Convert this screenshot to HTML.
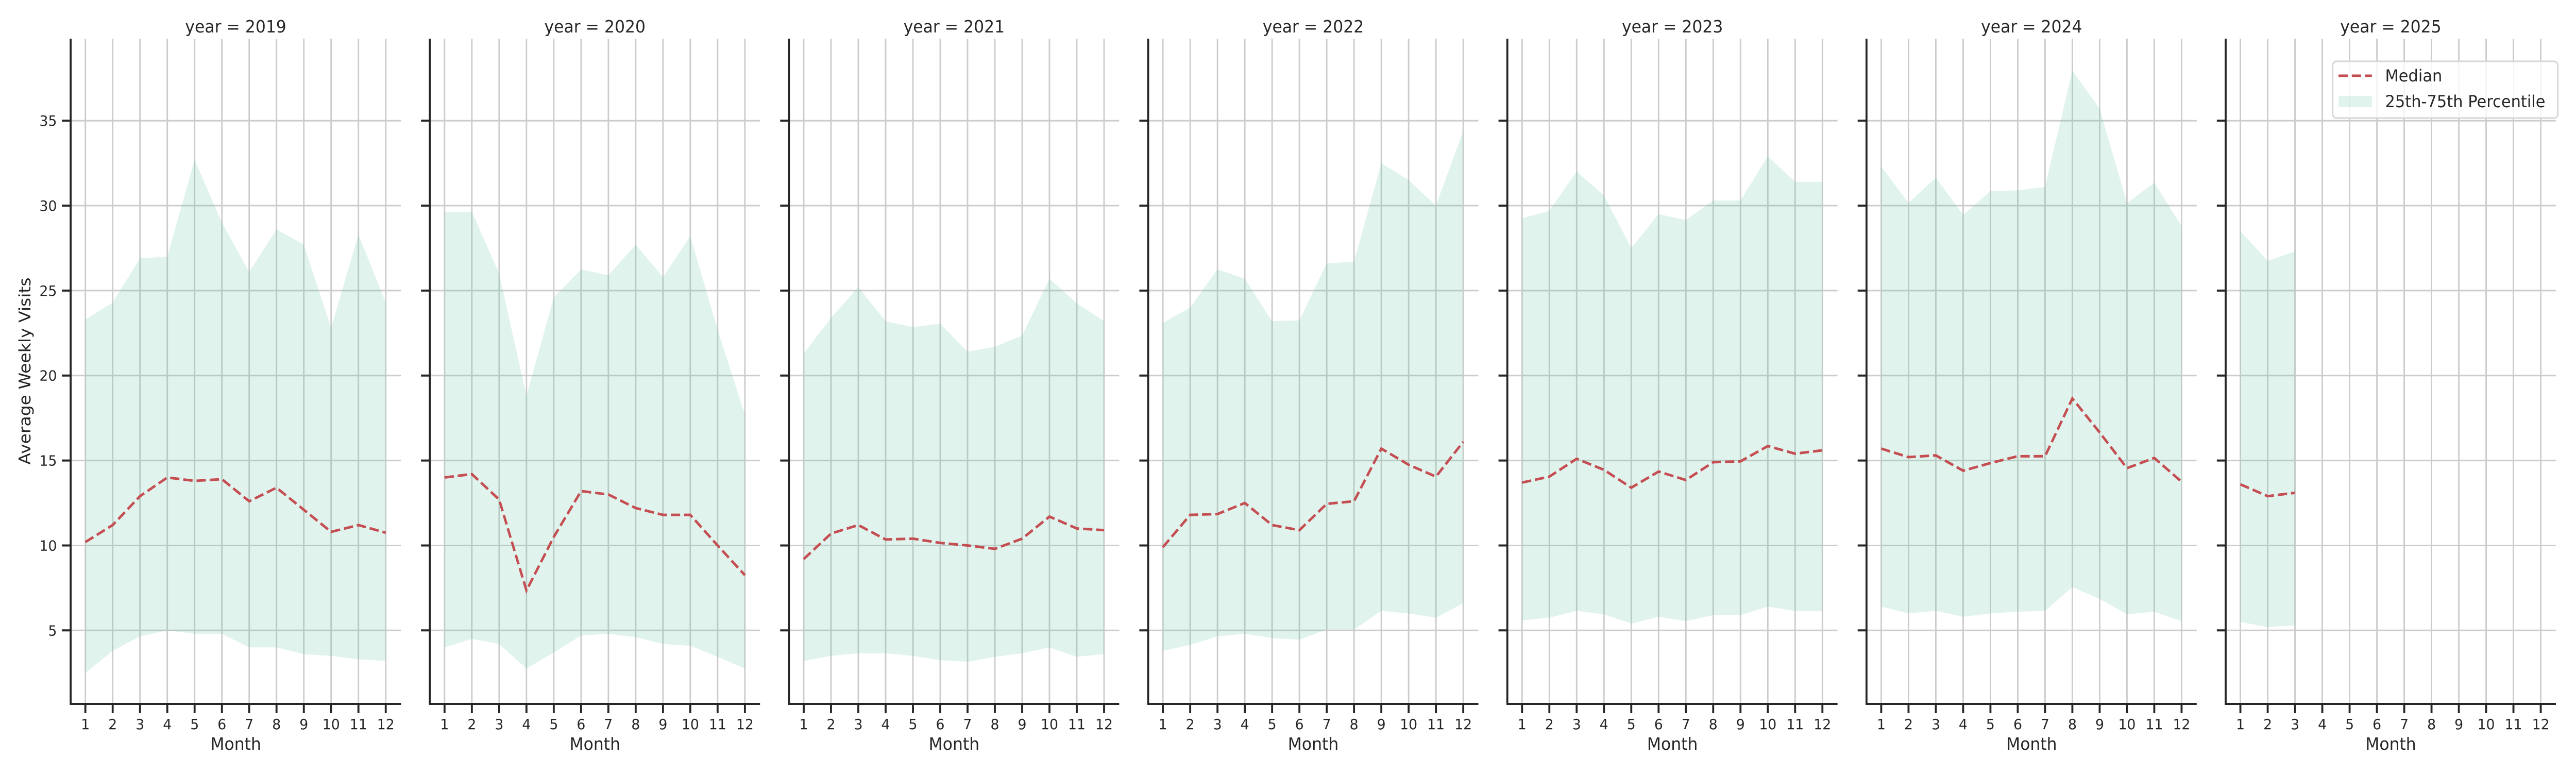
<!DOCTYPE html>
<html><head><meta charset="utf-8">
<style>
html,body{margin:0;padding:0;background:#fff;overflow:hidden;width:100%;height:100%;}
svg{display:block;width:100vw;height:100vh;font-family:"DejaVu Sans","Liberation Sans",sans-serif;}
</style></head>
<body>
<svg id="chart" viewBox="0 0 5250 1500" preserveAspectRatio="none" xmlns="http://www.w3.org/2000/svg"></svg>
<script>
const years = [2019, 2020, 2021, 2022, 2023, 2024, 2025];
const months = [1,2,3,4,5,6,7,8,9,10,11,12];
const yTicks = [5,10,15,20,25,30,35];
const median2019 = [10.2,11.2,12.9,14.0,13.8,13.9,12.6,13.4,12.1,10.8,11.2,10.75];
const upper2019 = [23.3,24.3,26.9,27.0,32.7,29.0,26.1,28.6,27.7,22.8,28.3,24.3];
const lower2019 = [2.5,3.8,4.65,5.0,4.8,4.8,4.0,4.0,3.6,3.5,3.3,3.2];
const median2020 = [14.0,14.2,12.7,7.35,10.5,13.2,13.0,12.2,11.8,11.8,10.0,8.25];
const upper2020 = [29.6,29.65,26.0,18.8,24.6,26.25,25.9,27.7,25.8,28.2,22.7,17.7];
const lower2020 = [4.0,4.5,4.2,2.75,3.7,4.7,4.8,4.6,4.2,4.1,3.45,2.75];
const median2021 = [9.2,10.7,11.2,10.35,10.4,10.15,10.0,9.8,10.4,11.7,11.0,10.9];
const upper2021 = [21.3,23.4,25.2,23.2,22.85,23.05,21.4,21.7,22.35,25.7,24.25,23.2];
const lower2021 = [3.2,3.5,3.65,3.65,3.5,3.25,3.15,3.45,3.65,4.0,3.45,3.6];
const median2022 = [9.9,11.8,11.85,12.5,11.2,10.9,12.45,12.6,15.7,14.75,14.05,16.1];
const upper2022 = [23.1,24.0,26.25,25.7,23.2,23.25,26.6,26.7,32.5,31.5,30.0,34.4];
const lower2022 = [3.8,4.15,4.65,4.8,4.55,4.45,5.05,5.05,6.15,6.0,5.75,6.6];
const median2023 = [13.7,14.05,15.1,14.45,13.4,14.35,13.85,14.9,14.95,15.85,15.4,15.6];
const upper2023 = [29.25,29.7,32.0,30.6,27.5,29.5,29.15,30.3,30.3,32.9,31.4,31.4];
const lower2023 = [5.6,5.75,6.15,5.95,5.4,5.8,5.55,5.9,5.9,6.4,6.15,6.15];
const median2024 = [15.7,15.2,15.3,14.4,14.85,15.25,15.25,18.65,16.65,14.55,15.15,13.75];
const upper2024 = [32.3,30.15,31.65,29.45,30.85,30.9,31.1,37.95,35.7,30.15,31.35,28.8];
const lower2024 = [6.4,6.0,6.15,5.8,6.0,6.1,6.15,7.55,6.85,5.95,6.1,5.55];
const median2025 = [13.6,12.9,13.1];
const upper2025 = [28.5,26.75,27.3];
const lower2025 = [5.5,5.2,5.3];

const medians = [median2019,median2020,median2021,median2022,median2023,median2024,median2025];
const uppers = [upper2019,upper2020,upper2021,upper2022,upper2023,upper2024,upper2025];
const lowers = [lower2019,lower2020,lower2021,lower2022,lower2023,lower2024,lower2025];

const NS = "http://www.w3.org/2000/svg";
const svg = document.getElementById("chart");
function mk(tag, attrs, parent){
  const e = document.createElementNS(NS, tag);
  for (const k in attrs) e.setAttribute(k, attrs[k]);
  (parent||svg).appendChild(e);
  return e;
}
const PANEL0 = 144, PSTEP = 732, PW = 673, TOP = 75, BOT = 1366;
function yScale(v){ return 1223.3 - (v - 5) * 32.97; }
function xScale(p, m){ return PANEL0 + p*PSTEP + 30 + (m - 1) * 55.65; }

years.forEach((yr, p) => {
  const L = PANEL0 + p*PSTEP;
  const g = mk("g", {});
  
  
  months.forEach(m => {
    const ln = mk("line", {x1:xScale(p,m), x2:xScale(p,m), y1:TOP, y2:BOT, stroke:"#cccccc", "stroke-width":3}, g);
    
    
  });
  yTicks.forEach(t => {
    const ln = mk("line", {x1:L, x2:L+PW, y1:yScale(t), y2:yScale(t), stroke:"#cccccc", "stroke-width":3}, g);
    
    
  });
  const up = uppers[p], lo = lowers[p], md = medians[p];
  let pts = [];
  up.forEach((v,i) => pts.push(xScale(p, months[i]) + "," + yScale(v)));
  for (let i = lo.length-1; i >= 0; i--) pts.push(xScale(p, months[i]) + "," + yScale(lo[i]));
  const band = mk("polygon", {points: pts.join(" "), fill:"#66c2a5", "fill-opacity":0.2}, g);
  
  
  const mpts = md.map((v,i) => xScale(p, months[i]) + "," + yScale(v)).join(" ");
  const ml = mk("polyline", {points: mpts, fill:"none", stroke:"#c44e52", "stroke-width":5, "stroke-dasharray":"19,8"}, g);
  
  
  const ax = mk("line", {x1:L, x2:L, y1:TOP, y2:BOT+1.5, stroke:"#262626", "stroke-width":4}, g);
  
  
  const bx = mk("line", {x1:L-1.5, x2:L+PW, y1:BOT, y2:BOT, stroke:"#262626", "stroke-width":4}, g);
  
  
  months.forEach(m => {
    const tk = mk("line", {x1:xScale(p,m), x2:xScale(p,m), y1:BOT, y2:BOT+18, stroke:"#262626", "stroke-width":4}, g);
    
    
    const tl = mk("text", {x:xScale(p,m), y:1415, "text-anchor":"middle", "font-size":28, fill:"#262626"}, g);
    tl.textContent = m;
    
    
  });
  yTicks.forEach(t => {
    const tk = mk("line", {x1:L-18, x2:L, y1:yScale(t), y2:yScale(t), stroke:"#262626", "stroke-width":4}, g);
    
    
    if (p === 0) {
      const tl = mk("text", {x:L-28, y:yScale(t)+10, "text-anchor":"end", "font-size":28, fill:"#262626"}, g);
      tl.textContent = t;
      
      
    }
  });
  const xt = mk("text", {x:L+PW/2, y:1455, "text-anchor":"middle", "font-size":33, fill:"#262626"}, g);
  xt.textContent = "Month";
  
  
  const tt = mk("text", {x:L+PW/2, y:63, "text-anchor":"middle", "font-size":33, fill:"#262626"}, g);
  tt.textContent = "year = " + yr;
  
  
});

const yl = mk("text", {x:0, y:0, transform:"translate(62,720) rotate(-90)", "text-anchor":"middle", "font-size":33, fill:"#262626"});
yl.textContent = "Average Weekly Visits";



const lg = mk("g", {});


const lb = mk("rect", {x:4754, y:119, width:459, height:110, rx:8, fill:"#ffffff", "fill-opacity":0.8, stroke:"#d6d6d6", "stroke-width":3}, lg);


const l1 = mk("line", {x1:4766, x2:4834, y1:147, y2:147, stroke:"#c44e52", "stroke-width":5, "stroke-dasharray":"19,8"}, lg);


const t1 = mk("text", {x:4861, y:158, "font-size":32, fill:"#262626"}, lg);
t1.textContent = "Median";


const r2 = mk("rect", {x:4766, y:186, width:68, height:22, fill:"#66c2a5", "fill-opacity":0.2}, lg);


const t2 = mk("text", {x:4861, y:208, "font-size":32, fill:"#262626"}, lg);
t2.textContent = "25th-75th Percentile";


</script>
</body></html>
